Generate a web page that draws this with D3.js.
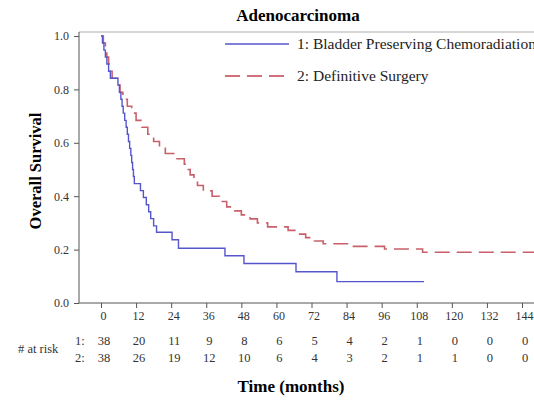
<!DOCTYPE html>
<html>
<head>
<meta charset="utf-8">
<script src="https://cdn.jsdelivr.net/npm/d3@7"></script>
<style>
  body { margin: 0; background: #fff; }
  svg { display: block; }
  svg text { font-family: "Liberation Serif", "DejaVu Serif", serif !important; }
</style>
</head>
<body>
<svg id="chart" width="534" height="401"></svg>
<script>
// Kaplan-Meier steps: [time in months, survival]
const chemoSteps = [
    [0, 1], [0.5, 0.974], [1, 0.947], [1.5, 0.921], [2, 0.895], [2.6, 0.868], [3.2, 0.842],
    [5.8, 0.816], [6.3, 0.789], [6.8, 0.763], [7.2, 0.737], [7.6, 0.711], [8.1, 0.684],
    [8.6, 0.658], [9.0, 0.632], [9.4, 0.605], [9.8, 0.579], [10.2, 0.553], [10.5, 0.526],
    [10.8, 0.5], [11.1, 0.474], [11.4, 0.447], [13.5, 0.421], [14.5, 0.395], [15.5, 0.368],
    [16.3, 0.342], [17.0, 0.316], [18.0, 0.289], [19.0, 0.265], [24.3, 0.237], [26.5, 0.205],
    [42.4, 0.177], [48.9, 0.148], [66.7, 0.117], [80.7, 0.08]
];
const chemoEnd = 110.5;

const surgerySteps = [
    [0, 1], [0.8, 0.974], [1.5, 0.947], [2, 0.921], [2.6, 0.895], [3.2, 0.868], [3.8, 0.842],
    [5.5, 0.816], [6.5, 0.789], [7.5, 0.763], [9, 0.737], [10.5, 0.711], [12, 0.684],
    [14, 0.658], [16, 0.632], [18, 0.605], [20, 0.579], [22, 0.56], [26, 0.54], [28.5, 0.52],
    [29.5, 0.5], [30.5, 0.48], [31.8, 0.46], [33, 0.44], [35, 0.42], [38, 0.4], [40.5, 0.38],
    [43, 0.36], [45.5, 0.345], [48, 0.33], [51, 0.315], [53.5, 0.3], [57, 0.285], [64, 0.272],
    [67, 0.258], [70, 0.245], [73, 0.232], [76, 0.222], [86, 0.212], [97, 0.202], [110, 0.19]
];
const surgeryEnd = 152;

const xTicks = [0, 12, 24, 36, 48, 60, 72, 84, 96, 108, 120, 132, 144];
const yTicks = [0, 0.2, 0.4, 0.6, 0.8, 1.0];
const atRisk1 = [38, 20, 11, 9, 8, 6, 5, 4, 2, 1, 0, 0, 0];
const atRisk2 = [38, 26, 19, 12, 10, 6, 4, 3, 2, 1, 1, 0, 0];
const seriesNames = ['1: Bladder Preserving Chemoradiation', '2: Definitive Surgery'];

const svg = d3.select('#chart');
const plotLeft = 79, plotTop = 32, plotBottom = 303, plotRight = 560;

const x = d3.scaleLinear().domain([0, 144]).range([101, 522]);
const y = d3.scaleLinear().domain([0, 1]).range([plotBottom, 36]);

// title
svg.append('text')
    .attr('x', 298).attr('y', 21)
    .attr('text-anchor', 'middle')
    .style('font-weight', 'bold').style('font-size', '17px')
    .text('Adenocarcinoma');

// top frame line
svg.append('line')
    .attr('x1', plotLeft).attr('x2', plotRight)
    .attr('y1', plotTop).attr('y2', plotTop)
    .attr('stroke', '#c8c8c8').attr('stroke-width', 1.5);

svg.append('clipPath').attr('id', 'plot-clip')
    .append('rect')
    .attr('x', plotLeft).attr('y', plotTop)
    .attr('width', plotRight - plotLeft).attr('height', plotBottom - plotTop);

// y axis
const yAxis = svg.append('g')
    .attr('transform', `translate(${plotLeft},0)`)
    .call(d3.axisLeft(y).tickValues(yTicks).tickFormat(d3.format('.1f')).tickSize(5).tickSizeOuter(0));
yAxis.select('.domain').attr('stroke', '#555').attr('d', `M0,${plotTop}V${plotBottom}`);
yAxis.selectAll('.tick line').attr('stroke', '#555');
yAxis.selectAll('.tick text')
    .style('font-size', '12px')
    .attr('fill', '#333').attr('x', -10);

// x axis
const xAxis = svg.append('g')
    .attr('transform', `translate(0,${plotBottom})`)
    .call(d3.axisBottom(x).tickValues(xTicks).tickSize(5).tickSizeOuter(0));
xAxis.select('.domain').attr('stroke', '#555').attr('d', `M${plotLeft},0H${plotRight}`);
xAxis.selectAll('.tick line').attr('stroke', '#555');
xAxis.selectAll('.tick text')
    .style('font-size', '12px')
    .attr('fill', '#333').attr('y', 8).attr('dx', 2);

// axis titles
svg.append('text')
    .attr('transform', 'translate(41,171) rotate(-90)')
    .attr('text-anchor', 'middle')
    .style('font-weight', 'bold').style('font-size', '16.5px')
    .text('Overall Survival');

svg.append('text')
    .attr('x', 291).attr('y', 392)
    .attr('text-anchor', 'middle')
    .style('font-weight', 'bold').style('font-size', '17px')
    .text('Time (months)');

// curves
const line = d3.line()
    .x(d => x(d[0]))
    .y(d => y(d[1]))
    .curve(d3.curveStepAfter);

const curves = svg.append('g').attr('clip-path', 'url(#plot-clip)');

curves.append('path')
    .datum(surgerySteps.concat([[surgeryEnd, surgerySteps[surgerySteps.length - 1][1]]]))
    .attr('fill', 'none')
    .attr('stroke', '#c8606c')
    .attr('stroke-width', 1.6)
    .attr('stroke-dasharray', '15,7')
    .attr('d', line);

curves.append('path')
    .datum(chemoSteps.concat([[chemoEnd, chemoSteps[chemoSteps.length - 1][1]]]))
    .attr('fill', 'none')
    .attr('stroke', '#5656cc')
    .attr('stroke-width', 1.4)
    .attr('d', line);

// legend
const legend = svg.append('g');
legend.append('line')
    .attr('x1', 225).attr('x2', 289).attr('y1', 44).attr('y2', 44)
    .attr('stroke', '#5656cc').attr('stroke-width', 1.6);
legend.append('line')
    .attr('x1', 225).attr('x2', 289).attr('y1', 76).attr('y2', 76)
    .attr('stroke', '#d0707a').attr('stroke-width', 1.8)
    .attr('stroke-dasharray', '15,7');
legend.selectAll('text.leg')
    .data(seriesNames)
    .join('text')
    .attr('class', 'leg')
    .attr('x', 297)
    .attr('y', (d, i) => i === 0 ? 49 : 81)
    .style('font-size', '15.5px')
    .attr('fill', '#222')
    .text(d => d);

// number at risk table
svg.append('text')
    .attr('x', 18).attr('y', 353)
    .style('font-size', '12.5px').attr('fill', '#333')
    .text('# at risk');

[atRisk1, atRisk2].forEach((row, r) => {
    const rowY = r === 0 ? 345 : 362;
    svg.append('text')
        .attr('x', 75).attr('y', rowY)
        .style('font-size', '12.5px').attr('fill', '#333')
        .text((r + 1) + ':');
    svg.append('g').selectAll('text')
        .data(row)
        .join('text')
        .attr('x', (d, i) => x(xTicks[i]) + 3)
        .attr('y', rowY)
        .attr('text-anchor', 'middle')
        .style('font-size', '12.5px').attr('fill', '#333')
        .text(d => d);
});
</script>
</body>
</html>
